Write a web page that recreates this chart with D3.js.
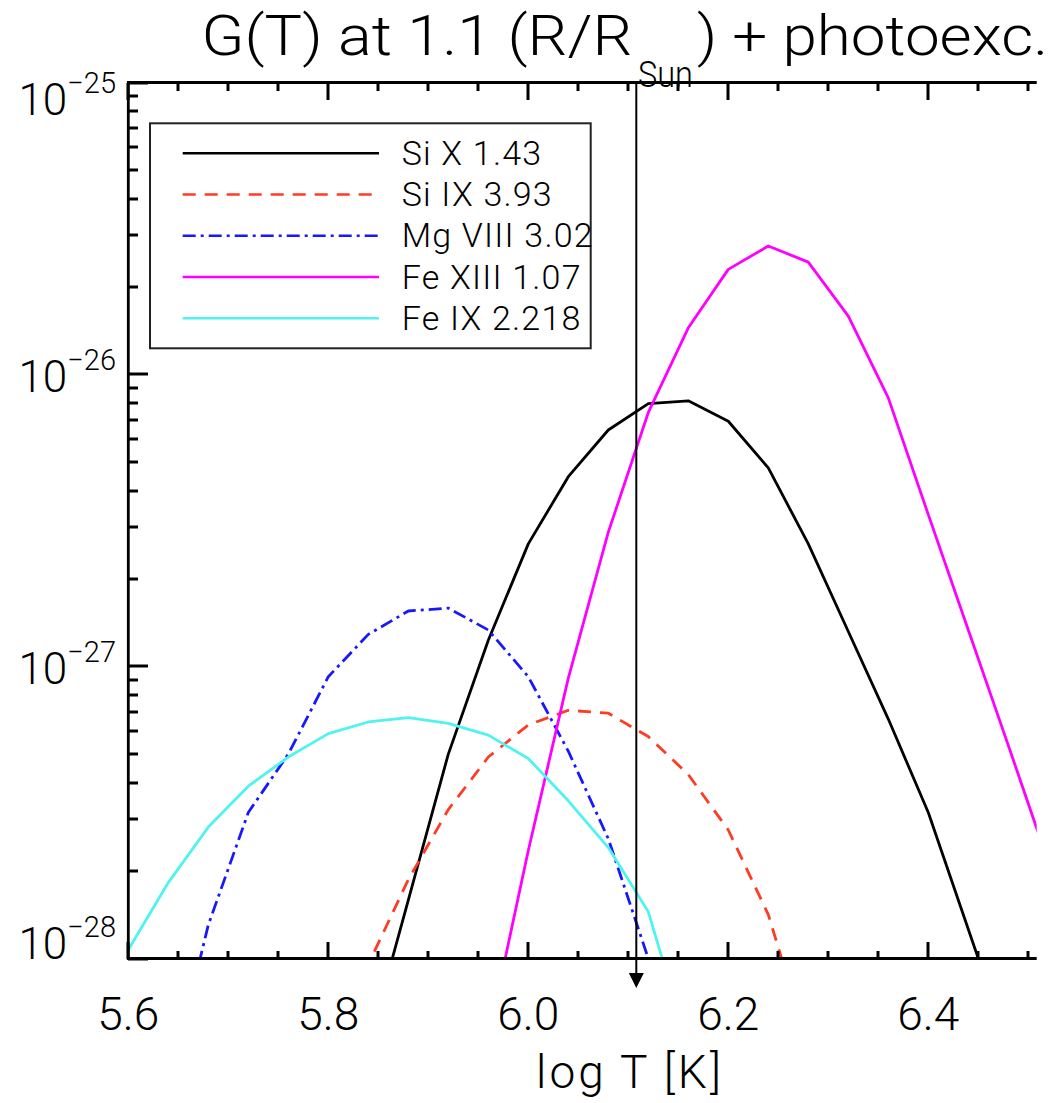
<!DOCTYPE html>
<html>
<head>
<meta charset="utf-8">
<script src="https://cdn.jsdelivr.net/npm/d3@7"></script>
<style>
  body { margin: 0; background: #fff; }
  svg { display: block; }
  text { font-family: Roboto, "Liberation Sans", Arial, sans-serif; font-weight: 300; fill: #000; }
</style>
</head>
<body>
<svg id="chart" width="1054" height="1103"></svg>
<script>
// Temperature grid (log T [K])
const logT = [5.60, 5.64, 5.68, 5.72, 5.76, 5.80, 5.84, 5.88, 5.92, 5.96, 6.00, 6.04,
              6.08, 6.12, 6.16, 6.20, 6.24, 6.28, 6.32, 6.36, 6.40, 6.44, 6.48, 6.52];

// log10 G(T) for each line; null where the curve is not computed
const siX    = [null, null, null, null, null, null, -28.30, -27.80, -27.30, -26.91, -26.58, -26.35,
                -26.19, -26.10, -26.09, -26.16, -26.32, -26.58, -26.88, -27.18, -27.50, -27.90, -28.30, null];
const siIX   = [null, null, null, null, null, -28.40, -28.02, -27.73, -27.49, -27.31, -27.20, -27.15,
                -27.16, -27.24, -27.37, -27.56, -27.85, -28.30, null, null, null, null, null, null];
const mgVIII = [null, -28.45, -27.885, -27.50, -27.30, -27.035, -26.89, -26.81, -26.80, -26.875, -27.035, -27.29,
                -27.59, -28.00, -28.50, null, null, null, null, null, null, null, null, null];
const feXIII = [null, null, null, null, null, null, null, null, null, -28.27, -27.63, -27.04,
                -26.54, -26.13, -25.84, -25.64, -25.56, -25.615, -25.80, -26.08, -26.48, -26.875, -27.27, -27.67];
const feIX   = [-27.97, -27.74, -27.55, -27.41, -27.31, -27.23, -27.19, -27.175, -27.195, -27.235, -27.315, -27.46,
                -27.62, -27.84, -28.30, null, null, null, null, null, null, null, null, null];

const seriesNames = ["Si X 1.43", "Si IX 3.93", "Mg VIII 3.02", "Fe XIII 1.07", "Fe IX 2.218"];
const seriesColors = ["#000000", "#ff3b22", "#1818ff", "#ff00ff", "#50f2f2"];
const seriesDash = [null, "13,9", "13,5,3,5", null, null];
const seriesData = [siX, siIX, mgVIII, feXIII, feIX];

const xMajorTicks = [5.6, 5.8, 6.0, 6.2, 6.4];
const xTickLabels = ["5.6", "5.8", "6.0", "6.2", "6.4"];
const yMajorTicks = [1e-25, 1e-26, 1e-27, 1e-28];
const yTickExponents = ["\u221225", "\u221226", "\u221227", "\u221228"];

const markerLogT = 6.108;   // temperature marked by the arrow

const titleParts = ["G(T) at 1.1 (R/R", "Sun", ") + photoexc."];
const xAxisTitle = "log T [K]";

// ---- layout ----
const svg = d3.select("#chart");
const plotLeft = 128.3, plotTop = 82.5, plotBottom = 958.5;
const xMin = 5.6, xMax = 6.5084;

const x = d3.scaleLinear().domain([xMin, xMax]).range([plotLeft, plotLeft + (xMax - xMin) * 1000]);
const y = d3.scaleLog().domain([1e-28, 1e-25]).range([plotBottom, plotTop]);
const plotRight = x(xMax);

svg.append("defs").append("clipPath").attr("id", "plotClip")
  .append("rect")
  .attr("x", plotLeft).attr("y", plotTop)
  .attr("width", plotRight - plotLeft).attr("height", plotBottom - plotTop);

// ---- curves ----
const line = d3.line()
  .defined(d => d[1] !== null)
  .x(d => x(d[0]))
  .y(d => y(Math.pow(10, d[1])));

const curves = svg.append("g").attr("clip-path", "url(#plotClip)");
seriesData.forEach((vals, i) => {
  curves.append("path")
    .datum(logT.map((t, k) => [t, vals[k]]))
    .attr("d", line)
    .attr("fill", "none")
    .attr("stroke", seriesColors[i])
    .attr("stroke-width", 2.8)
    .attr("stroke-linejoin", "round")
    .attr("stroke-dasharray", seriesDash[i]);
});

// frame: left, top and bottom edges
svg.append("path")
  .attr("d", `M${plotRight},${plotTop} H${plotLeft} V${plotBottom} H${plotRight}`)
  .attr("fill", "none")
  .attr("stroke", "#000")
  .attr("stroke-width", 2.8);

// x tick labels
svg.selectAll("text.xlab").data(xMajorTicks).join("text").attr("class", "xlab")
  .attr("x", d => x(d)).attr("y", 1030)
  .attr("text-anchor", "middle")
  .attr("font-size", 46)
  .text((d, i) => xTickLabels[i]);

// y tick labels: 10 with superscript exponent, kept inside the axis span
yMajorTicks.forEach((v, i) => {
  const ty = y(v);
  const base = Math.min(Math.max(ty + 17, plotTop + 32), plotBottom);
  const t = svg.append("text")
    .attr("x", 116).attr("y", base)
    .attr("text-anchor", "end");
  t.append("tspan").attr("font-size", 44).text("10");
  t.append("tspan").attr("font-size", 29).attr("dy", -22).text(yTickExponents[i]);
});

// x axis title
svg.append("text")
  .attr("x", 630).attr("y", 1088)
  .attr("text-anchor", "middle")
  .attr("font-size", 46)
  .attr("letter-spacing", 3)
  .text(xAxisTitle);

// title
svg.append("text").attr("x", 201.5).attr("y", 55).attr("font-size", 55)
  .attr("textLength", 431).attr("lengthAdjust", "spacingAndGlyphs").text(titleParts[0]);
svg.append("text").attr("x", 638).attr("y", 87).attr("font-size", 36)
  .attr("textLength", 55).attr("lengthAdjust", "spacingAndGlyphs").text(titleParts[1]);
svg.append("text").attr("x", 697).attr("y", 55).attr("font-size", 55)
  .attr("textLength", 351).attr("lengthAdjust", "spacingAndGlyphs").text(titleParts[2]);

// marker arrow
const mx = x(markerLogT);
svg.append("path")
  .attr("d", `M${mx},${plotTop} V978`)
  .attr("stroke", "#000").attr("stroke-width", 2).attr("fill", "none");
svg.append("path")
  .attr("d", `M${mx - 7.5},973 L${mx + 7.5},973 L${mx},988 Z`)
  .attr("fill", "#000");

// legend
const legend = svg.append("g");
legend.append("rect")
  .attr("x", 150).attr("y", 123.3).attr("width", 440.7).attr("height", 225)
  .attr("fill", "#fff").attr("stroke", "#222").attr("stroke-width", 2);
seriesNames.forEach((name, i) => {
  const ly = 153.3 + i * 41.25;
  legend.append("path")
    .attr("d", `M182.7,${ly} H379`)
    .attr("fill", "none")
    .attr("stroke", seriesColors[i]).attr("stroke-width", 2.6)
    .attr("stroke-dasharray", seriesDash[i]);
  legend.append("text")
    .attr("x", 401.7).attr("y", ly + 11.5)
    .attr("font-size", 34)
    .attr("letter-spacing", 1.2)
    .text(name);
});

// ---- ticks, pointing into the plot (drawn last, on whole pixels) ----
const xMinorTicks = d3.range(0, 19).map(k => +(xMin + k * 0.05).toFixed(2))
  .filter(v => v <= xMax && !xMajorTicks.includes(v));
const yMinorTicks = [];
[-28, -27, -26].forEach(e => { for (let m = 2; m <= 9; m++) yMinorTicks.push(m * Math.pow(10, e)); });

const bx = Math.round(plotLeft), by = Math.round(plotBottom), ty0 = Math.round(plotTop);
function tick(x1, y1, x2, y2) {
  svg.append("line")
    .attr("x1", Math.round(x1)).attr("x2", Math.round(x2))
    .attr("y1", Math.round(y1)).attr("y2", Math.round(y2))
    .attr("stroke", "#000").attr("stroke-width", 3);
}
xMinorTicks.forEach(v => {
  tick(x(v), by, x(v), by - 8);
  tick(x(v), ty0, x(v), ty0 + 8);
});
xMajorTicks.forEach(v => {
  tick(x(v), by, x(v), by - 17);
  tick(x(v), ty0, x(v), ty0 + 17);
});
yMinorTicks.forEach(v => tick(bx, y(v), bx + 10, y(v)));
yMajorTicks.forEach(v => tick(bx, y(v), bx + 20, y(v)));
</script>
</body>
</html>
